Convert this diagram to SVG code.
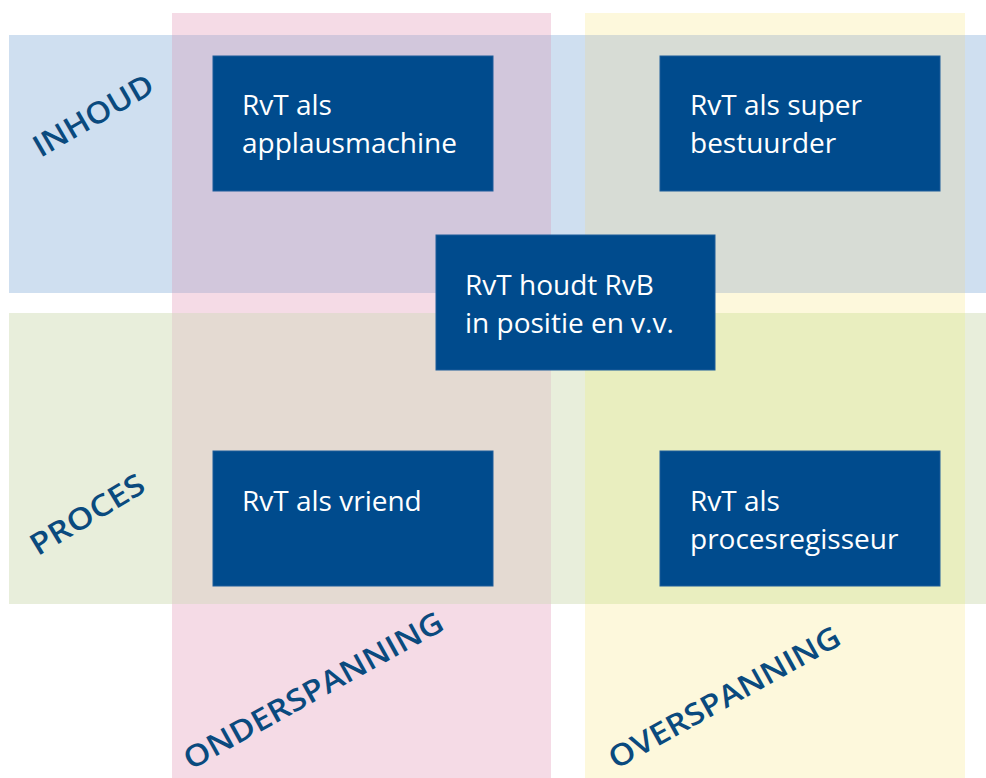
<svg xmlns="http://www.w3.org/2000/svg" width="986" height="778" viewBox="0 0 986 778">
<style>
.box{fill:#004b8d;stroke:#1d5c9a;stroke-width:1}
.bt{font-family:"Open Sans","Noto Sans",sans-serif;font-size:28px;fill:#ffffff}
.lab{font-family:"Open Sans","Noto Sans",sans-serif;font-size:30px;font-weight:600;fill:#0a4a7e;text-anchor:middle}
</style>
<rect x="0" y="0" width="986" height="778" fill="#ffffff"/>
<g id="background">
<rect x="172" y="13" width="379" height="765" fill="#f5dbe6"/>
<rect x="585" y="13" width="380" height="765" fill="#fdf8dc"/>
<rect x="9" y="35" width="977" height="258" fill="#cfdff0"/>
<rect x="9" y="313" width="977" height="291" fill="#e8eedb"/>
<rect x="172" y="35" width="379" height="258" fill="#d2c7dc"/>
<rect x="585" y="35" width="380" height="258" fill="#d7dcd5"/>
<rect x="172" y="313" width="379" height="291" fill="#e4dad2"/>
<rect x="585" y="313" width="380" height="291" fill="#e9eebf"/>
</g>
<g id="labels">
<text class="lab" transform="translate(93,115) rotate(-30)" y="11" textLength="134" lengthAdjust="spacingAndGlyphs">INHOUD</text>
<text class="lab" transform="translate(87,514) rotate(-31)" y="11" textLength="128" lengthAdjust="spacingAndGlyphs">PROCES</text>
<text class="lab" transform="translate(313,690) rotate(-29)" y="11" textLength="292" lengthAdjust="spacingAndGlyphs">ONDERSPANNING</text>
<text class="lab" transform="translate(724,697) rotate(-29)" y="11" textLength="260" lengthAdjust="spacingAndGlyphs">OVERSPANNING</text>
</g>
<g id="connectors"></g>
<g id="node-applausmachine">
<rect class="box" x="213" y="56" width="280" height="135"/>
<text class="bt" x="242" y="115">RvT als</text>
<text class="bt" x="242" y="153">applausmachine</text>
</g>
<g id="node-superbestuurder">
<rect class="box" x="660" y="56" width="280" height="135"/>
<text class="bt" x="690" y="115">RvT als super</text>
<text class="bt" x="690" y="153">bestuurder</text>
</g>
<g id="node-positie">
<rect class="box" x="436" y="235" width="279" height="135"/>
<text class="bt" x="465" y="295">RvT houdt RvB</text>
<text class="bt" x="465" y="333">in positie en v.v.</text>
</g>
<g id="node-vriend">
<rect class="box" x="213" y="451" width="280" height="135"/>
<text class="bt" x="242" y="511">RvT als vriend</text>
</g>
<g id="node-procesregisseur">
<rect class="box" x="660" y="451" width="280" height="135"/>
<text class="bt" x="690" y="511">RvT als</text>
<text class="bt" x="690" y="549">procesregisseur</text>
</g>
</svg>
